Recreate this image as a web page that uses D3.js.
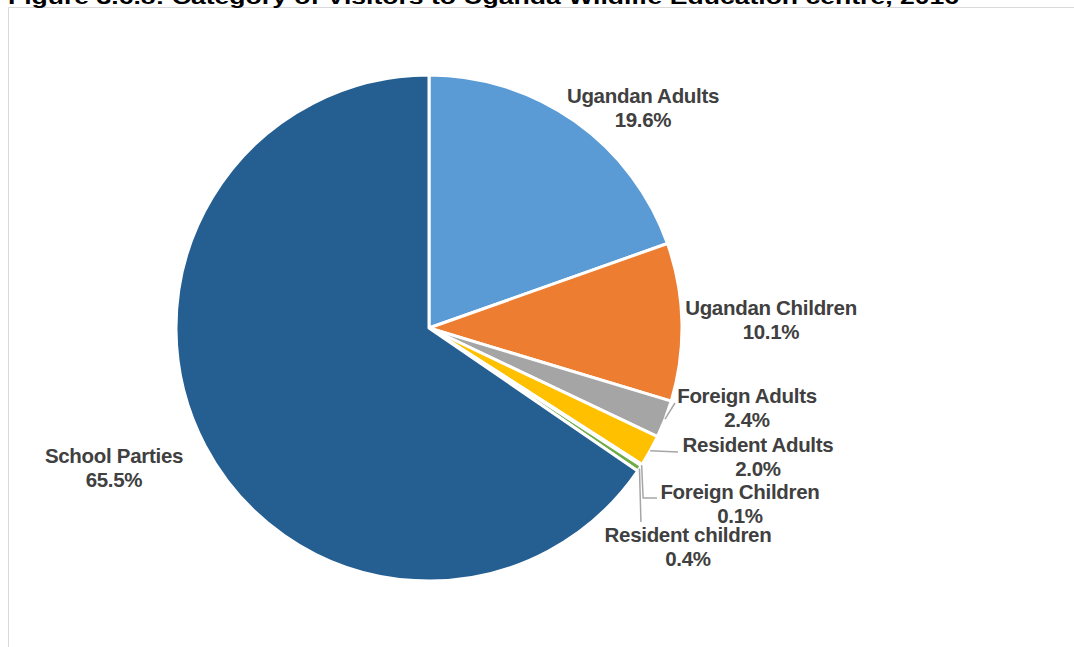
<!DOCTYPE html>
<html>
<head>
<meta charset="utf-8">
<script src="https://cdn.jsdelivr.net/npm/d3@7"></script>
<style>
  html, body { margin: 0; padding: 0; background: #fff; }
  svg { display: block; }
  text { font-family: "Liberation Sans", Arial, sans-serif; font-weight: bold; }
</style>
</head>
<body>
<svg id="chart" width="1074" height="647"></svg>
<script>
// Visitor categories, clockwise from 12 o'clock
const categories = ["Ugandan Adults", "Ugandan Children", "Foreign Adults", "Resident Adults",
                    "Foreign Children", "Resident children", "School Parties"];
const shares = [19.6, 10.1, 2.4, 2.0, 0.1, 0.4, 65.5];
const colors = ["#5B9BD5", "#ED7D31", "#A5A5A5", "#FFC000", "#4472C4", "#70AD47", "#255E91"];
const title = "Figure 3.6.8: Category of Visitors to Uganda Wildlife Education centre, 2016";

// Label placement (centre x, first baseline y) and optional leader-line end points
const labelLayout = [
  { x: 643, y: 103 },
  { x: 771, y: 315 },
  { x: 747, y: 403, leader: [[675, 403]] },
  { x: 758, y: 452, leader: [[678, 452]] },
  { x: 740, y: 499, leader: [[null, 498], [657, 498]] },
  { x: 688, y: 542, leader: [[null, 522]] },
  { x: 114, y: 463 }
];

const svg = d3.select("#chart");
const cx = 429, cy = 328, R = 253;

// Frame of the figure area
svg.append("path")
  .attr("d", "M8.5,647 L8.5,7.5 L1074,7.5")
  .attr("fill", "none")
  .attr("stroke", "#D9D9D9")
  .attr("stroke-width", 1);

// Caption (clipped at top edge)
svg.append("text")
  .attr("x", 8)
  .attr("y", 3.5)
  .attr("font-size", 21)
  .attr("fill", "#000")
  .attr("textLength", 951)
  .attr("lengthAdjust", "spacingAndGlyphs")
  .text(title);

const data = categories.map((c, i) => ({ name: c, value: shares[i], color: colors[i], layout: labelLayout[i] }));

const pie = d3.pie().value(d => d.value).sort(null);
const arcs = pie(data);
const arc = d3.arc().innerRadius(0).outerRadius(R);
const edgeArc = d3.arc().innerRadius(R).outerRadius(R);

const g = svg.append("g").attr("transform", `translate(${cx},${cy})`);

g.selectAll("path.slice")
  .data(arcs)
  .join("path")
  .attr("class", "slice")
  .attr("d", arc)
  .attr("fill", d => d.data.color)
  .attr("stroke", "#fff")
  .attr("stroke-width", 3)
  .attr("stroke-linejoin", "round");

// Leader lines for the narrow slices
const lines = svg.append("g");
arcs.forEach(a => {
  const lay = a.data.layout;
  if (!lay.leader) return;
  const [sx, sy] = edgeArc.centroid(a);
  const start = [cx + sx, cy + sy];
  const pts = [start];
  lay.leader.forEach(p => pts.push([p[0] === null ? start[0] + 1.5 : p[0], p[1]]));
  lines.append("path")
    .attr("d", d3.line()(pts))
    .attr("fill", "none")
    .attr("stroke", "#A6A6A6")
    .attr("stroke-width", 1.5);
});

// Category and percentage labels
const fmt = d3.format(".1f");
const labels = svg.append("g")
  .attr("font-size", 20.5)
  .attr("letter-spacing", "-0.3px")
  .attr("fill", "#404040")
  .attr("text-anchor", "middle");

arcs.forEach(a => {
  const lay = a.data.layout;
  const t = labels.append("text").attr("x", lay.x).attr("y", lay.y);
  t.append("tspan").attr("x", lay.x).text(a.data.name);
  t.append("tspan").attr("x", lay.x).attr("dy", 24).text(fmt(a.data.value) + "%");
});
</script>
</body>
</html>
